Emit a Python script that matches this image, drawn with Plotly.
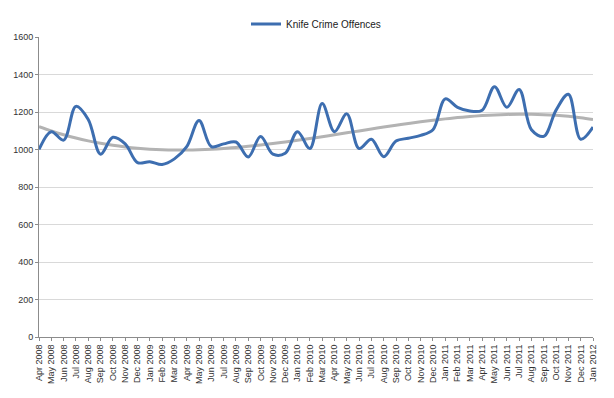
import numpy as np
import plotly.graph_objects as go

months = ["Apr 2008","May 2008","Jun 2008","Jul 2008","Aug 2008","Sep 2008","Oct 2008","Nov 2008","Dec 2008",
          "Jan 2009","Feb 2009","Mar 2009","Apr 2009","May 2009","Jun 2009","Jul 2009","Aug 2009","Sep 2009",
          "Oct 2009","Nov 2009","Dec 2009","Jan 2010","Feb 2010","Mar 2010","Apr 2010","May 2010","Jun 2010",
          "Jul 2010","Aug 2010","Sep 2010","Oct 2010","Nov 2010","Dec 2010","Jan 2011","Feb 2011","Mar 2011",
          "Apr 2011","May 2011","Jun 2011","Jul 2011","Aug 2011","Sep 2011","Oct 2011","Nov 2011","Dec 2011",
          "Jan 2012"]
offences = [1000, 1095, 1050, 1230, 1160, 975, 1065, 1030, 930,
            935, 920, 950, 1015, 1155, 1015, 1030, 1040, 960,
            1070, 975, 980, 1095, 1005, 1245, 1095, 1190, 1005,
            1055, 962, 1045, 1060, 1075, 1105, 1270, 1225, 1205,
            1210, 1335, 1225, 1320, 1105, 1070, 1210, 1295, 1055,
            1120]

# polynomial trendline fitted to the data (as in the original spreadsheet chart)
idx = np.arange(len(offences))
coef = np.polyfit(idx, offences, 3)
trend = np.polyval(coef, idx)

fig = go.Figure()
fig.add_trace(go.Scatter(x=months, y=trend, mode="lines", showlegend=False,
                         line=dict(color="#b3b3b3", width=3, shape="spline"), hoverinfo="skip"))
fig.add_trace(go.Scatter(x=months, y=offences, mode="lines", name="Knife Crime Offences",
                         line=dict(color="#3d6eb0", width=3, shape="spline", smoothing=1.0)))

# the page body adds an 8px margin, so the figure is drawn 8px smaller and offset
fig.update_layout(
    width=606, height=390,
    margin=dict(l=31, r=21, t=29, b=61, autoexpand=False),
    paper_bgcolor="white", plot_bgcolor="white",
    font=dict(family="Liberation Sans, Arial, sans-serif", size=9, color="#333333"),
    showlegend=True,
    legend=dict(orientation="h", x=0.5, xanchor="center", y=1.043, yanchor="middle",
                font=dict(size=10, color="#222222"), itemwidth=30),
)
fig.update_xaxes(type="category", range=[0, len(months) - 1], tickangle=-90,
                 showgrid=False, showline=True, linecolor="#8c8c8c", linewidth=1,
                 ticks="outside", ticklen=3, tickcolor="#8c8c8c",
                 tickfont=dict(size=9, color="#333333"))
fig.update_yaxes(range=[0, 1600], dtick=200, showgrid=True, gridcolor="#d9d9d9", gridwidth=1,
                 showline=True, linecolor="#8c8c8c", linewidth=1, zeroline=False,
                 ticks="outside", ticklen=3, tickcolor="#8c8c8c",
                 tickfont=dict(size=9, color="#333333"))

fig.write_html("out.html")
